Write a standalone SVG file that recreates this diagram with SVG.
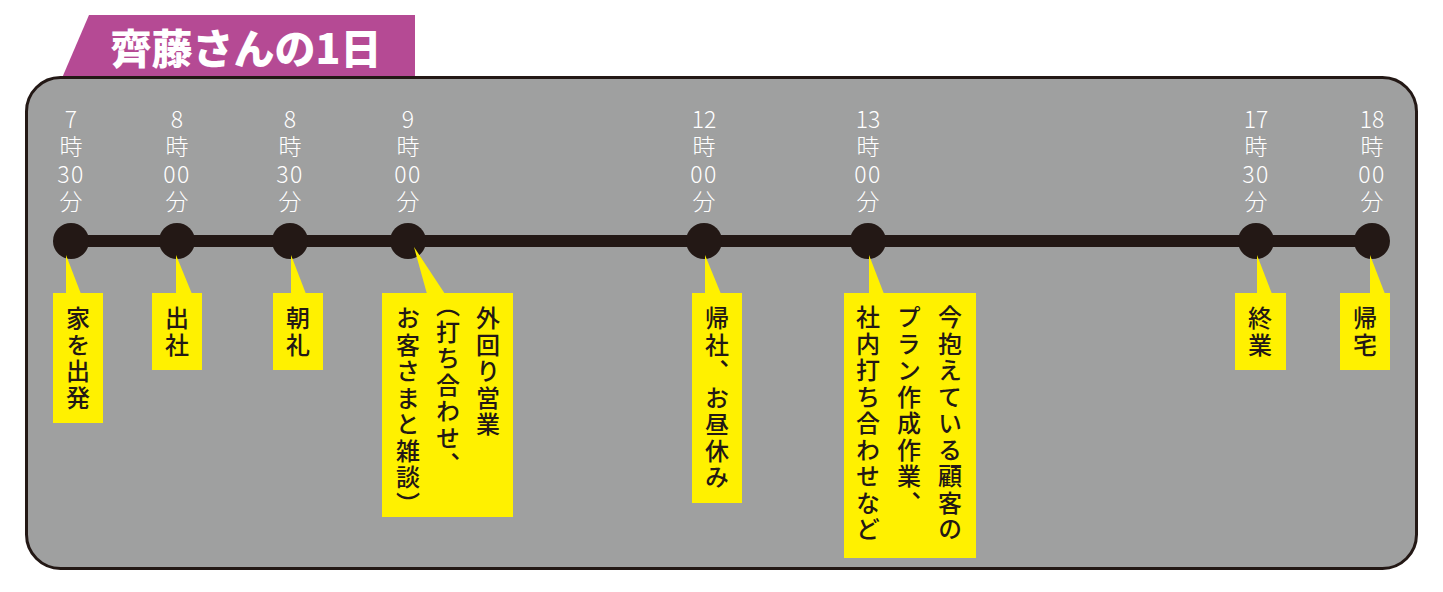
<svg xmlns="http://www.w3.org/2000/svg" width="1443" height="592" viewBox="0 0 1443 592">
<style>
.tm{font-family:"Noto Sans CJK JP","Noto Sans",sans-serif;font-weight:300;font-size:23px;fill:#ffffff;text-anchor:middle}
.dg{letter-spacing:1.5px}
.dot{fill:#231815}
.box{fill:#FFF100}
.vt{font-family:"Noto Sans CJK JP","Noto Sans CJK SC",sans-serif;font-weight:500;font-size:24px;fill:#231815;writing-mode:vertical-rl;letter-spacing:2.5px}
</style>
<rect width="1443" height="592" fill="#ffffff"/>
<g id="title">
<polygon points="89,15 415,15 415,78 62,78" fill="#B54A94"/>
<text x="246" y="64" font-family="'Noto Sans CJK JP','Noto Sans CJK SC',sans-serif" font-weight="900" font-size="41" fill="#ffffff" text-anchor="middle">齊藤さんの1日</text>
</g>
<rect id="panel" x="26.5" y="77.5" width="1390" height="491" rx="34" fill="#9FA0A0" stroke="#231815" stroke-width="3"/>
<g id="connectors">
<line x1="71" y1="241" x2="1372" y2="241" stroke="#231815" stroke-width="12"/>
</g>
<g id="n0730">
<text class="tm"><tspan x="71" y="128">7</tspan><tspan x="71" y="155">時</tspan><tspan class="dg" x="71" y="183">30</tspan><tspan x="71" y="210">分</tspan></text>
<circle class="dot" cx="71" cy="241" r="18"/>
<polygon class="box" points="66,255 66,294 81,294"/>
<rect class="box" x="53" y="293" width="50" height="130"/>
<text class="vt" x="78" y="306">家を出発</text>
</g>
<g id="n0800">
<text class="tm"><tspan x="177" y="128">8</tspan><tspan x="177" y="155">時</tspan><tspan class="dg" x="177" y="183">00</tspan><tspan x="177" y="210">分</tspan></text>
<circle class="dot" cx="177" cy="241" r="18"/>
<polygon class="box" points="176,255 176,294 192,294"/>
<rect class="box" x="152" y="293" width="50" height="77"/>
<text class="vt" x="177" y="306">出社</text>
</g>
<g id="n0830">
<text class="tm"><tspan x="290" y="128">8</tspan><tspan x="290" y="155">時</tspan><tspan class="dg" x="290" y="183">30</tspan><tspan x="290" y="210">分</tspan></text>
<circle class="dot" cx="290" cy="241" r="18"/>
<polygon class="box" points="291,255 291,294 306,294"/>
<rect class="box" x="273" y="293" width="50" height="77"/>
<text class="vt" x="298" y="306">朝礼</text>
</g>
<g id="n0900">
<text class="tm"><tspan x="408" y="128">9</tspan><tspan x="408" y="155">時</tspan><tspan class="dg" x="408" y="183">00</tspan><tspan x="408" y="210">分</tspan></text>
<circle class="dot" cx="408" cy="241" r="18"/>
<polygon class="box" points="414,247 427,294 445,294"/>
<rect class="box" x="382" y="293" width="131" height="224"/>
<text class="vt" x="488" y="306">外回り営業</text>
<text class="vt" x="448" y="293">（打ち合わせ、</text>
<text class="vt" x="408" y="306">お客さまと雑談）</text>
</g>
<g id="n1200">
<text class="tm"><tspan x="704" y="128">12</tspan><tspan x="704" y="155">時</tspan><tspan class="dg" x="704" y="183">00</tspan><tspan x="704" y="210">分</tspan></text>
<circle class="dot" cx="704" cy="241" r="18"/>
<polygon class="box" points="705,255 705,294 721,294"/>
<rect class="box" x="692" y="293" width="50" height="210"/>
<text class="vt" x="717" y="306">帰社、お昼休み</text>
</g>
<g id="n1300">
<text class="tm"><tspan x="868" y="128">13</tspan><tspan x="868" y="155">時</tspan><tspan class="dg" x="868" y="183">00</tspan><tspan x="868" y="210">分</tspan></text>
<circle class="dot" cx="868" cy="241" r="18"/>
<polygon class="box" points="869,255 869,294 884,294"/>
<rect class="box" x="844" y="293" width="132" height="265"/>
<text class="vt" x="950" y="305">今抱えている顧客の</text>
<text class="vt" x="909" y="305">プラン作成作業、</text>
<text class="vt" x="868" y="305">社内打ち合わせなど</text>
</g>
<g id="n1730">
<text class="tm"><tspan x="1256" y="128">17</tspan><tspan x="1256" y="155">時</tspan><tspan class="dg" x="1256" y="183">30</tspan><tspan x="1256" y="210">分</tspan></text>
<circle class="dot" cx="1256" cy="241" r="18"/>
<polygon class="box" points="1257,255 1257,294 1272,294"/>
<rect class="box" x="1235" y="293" width="51" height="77"/>
<text class="vt" x="1260" y="306">終業</text>
</g>
<g id="n1800">
<text class="tm"><tspan x="1372" y="128">18</tspan><tspan x="1372" y="155">時</tspan><tspan class="dg" x="1372" y="183">00</tspan><tspan x="1372" y="210">分</tspan></text>
<circle class="dot" cx="1372" cy="241" r="18"/>
<polygon class="box" points="1370,255 1370,294 1385,294"/>
<rect class="box" x="1340" y="293" width="50" height="77"/>
<text class="vt" x="1365" y="306">帰宅</text>
</g>
</svg>
